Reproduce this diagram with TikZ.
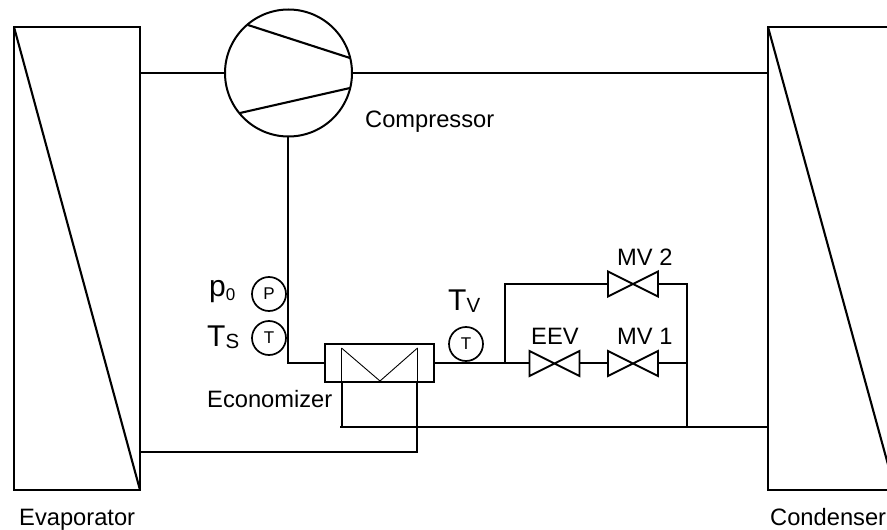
\documentclass[tikz,border=0pt]{standalone}
\usepackage{fontspec}
\setmainfont{Liberation Sans}
\usetikzlibrary{calc}
\tikzset{
  pipe/.style={line width=1.9pt},
  box/.style={line width=2.1pt},
  lbl/.style={inner sep=0pt,font=\fontsize{23.7}{24}\selectfont,anchor=base west},
  biglbl/.style={inner sep=0pt,font=\fontsize{30}{30}\selectfont,anchor=base west},
  sens/.style={circle,draw,line width=1.7pt,minimum size=34pt,inner sep=0pt,font=\fontsize{17}{17}\selectfont,fill=white},
  valve/.style={line width=1.9pt,line join=miter}
}
\newcommand{\valvesym}[1]{\draw[valve] ($(#1)+(-25,-12.5)$) -- ($(#1)+(25,12.5)$) -- ($(#1)+(25,-12.5)$) -- ($(#1)+(-25,12.5)$) -- cycle;}
\newcommand{\lowsub}[3]{\raisebox{-#1pt}{\fontsize{#2}{#2}\selectfont #3}}
\begin{document}
\begin{tikzpicture}[x=1pt,y=-1pt]
\useasboundingbox (0,0) rectangle (887,530);
\clip (0,0) rectangle (887,530);
% coordinates
\coordinate (evTL) at (14,27);
\coordinate (evBR) at (140,490);
\coordinate (coTL) at (768,27);
\coordinate (coBR) at (895,490);
\coordinate (ecoL) at (325,363);
\coordinate (ecoR) at (434,363);
\coordinate (v1) at (554.5,363.5);
\coordinate (v2) at (633,363.5);
\coordinate (v3) at (633,284);
\coordinate (j1) at (505,363);
\coordinate (j2) at (687,363);
\coordinate (j3) at (687,284);
\coordinate (j4) at (505,284);
\coordinate (j5) at (687,427);
\coordinate (c1) at (342,427);
\coordinate (c2) at (417,452);
% exchangers
\draw[box] (evTL) rectangle (evBR);
\draw[box] (evTL) -- (evBR);
\draw[box] (coTL) rectangle (coBR);
\draw[box] (coTL) -- (coBR);
% compressor
\node[circle,draw,line width=2pt,minimum size=127pt,inner sep=0pt] (comp) at (288.5,73) {};
\draw[pipe] (140,73) -- (comp.west);
\draw[pipe] (comp.east) -- (768,73);
\draw[box] (248,25) -- (350,58);
\draw[box] (240,113) -- (350,88);
% suction line
\draw[pipe] (288,136) -- (288,363) -- (ecoL);
% sensors
\node[sens] (sp) at (269,294) {P};
\node[sens] (st1) at (269,338) {T};
\node[sens] (st2) at (466,344) {T};
% economizer
\node[draw,line width=2.3pt,minimum width=109pt,minimum height=38pt,inner sep=0pt] (eco) at (379.5,363) {};
\draw[line width=0.9pt] (341.5,348) -- (341.5,382);
\draw[line width=0.9pt] (417.5,348) -- (417.5,382);
\draw[line width=0.9pt] (341.5,348) -- (380,381) -- (417.5,348);
\draw[pipe] (342,382) -- (c1);
\draw[pipe] (340,427) -- (768,427);
\draw[pipe] (417,382) -- (c2) -- (140,452);
% liquid line
\draw[pipe] (ecoR) -- (j2) -- (j5);
\draw[pipe] (j1) -- (j4) -- (j3) -- (j2);
\foreach \v in {v1,v2,v3} {\fill[white] ($(\v)+(-25,-12.5)$) rectangle ($(\v)+(25,12.5)$);\valvesym{\v}}
% labels
\node[lbl] (tcomp) at (365,127) {Compressor};
\node[lbl] (tevap) at (19,525) {Evaporator};
\node[lbl] (tcond) at (770,525) {Condenser};
\node[lbl] (teco) at (207,407) {Economizer};
\node[lbl] (tmv2) at (617,265) {MV 2};
\node[lbl] (tmv1) at (617,344) {MV 1};
\node[lbl] (teev) at (531,344) {EEV};
\node[biglbl] (tp) at (209,296) {p\lowsub{4}{17}{0}};
\node[biglbl] (tts) at (207,346) {T\lowsub{2}{20.5}{S}};
\node[biglbl] (ttv) at (448,310) {T\lowsub{2}{20.5}{V}};
\end{tikzpicture}
\end{document}
